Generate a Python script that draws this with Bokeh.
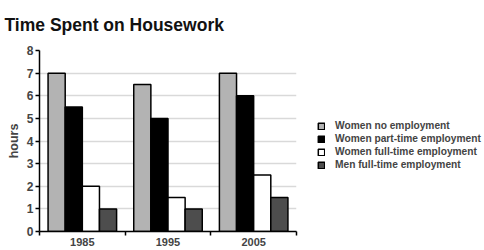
from bokeh.plotting import figure
from bokeh.models import ColumnDataSource, FixedTicker, Legend, LegendItem, Range1d, Title
from bokeh.transform import dodge
from bokeh.embed import file_html
from bokeh.resources import INLINE

years = ["1985", "1995", "2005"]
series_names = ["Women no employment", "Women part-time employment",
                "Women full-time employment", "Men full-time employment"]
women_no = [7, 6.5, 7]
women_part = [5.5, 5, 6]
women_full = [2, 1.5, 2.5]
men_full = [1, 1, 1.5]
colors = ["#b3b3b3", "#000000", "#ffffff", "#4d4d4d"]

FONT = "Liberation Sans"
x_centers = [i + 0.5 for i in range(len(years))]
src = ColumnDataSource(dict(x=x_centers, s0=women_no, s1=women_part, s2=women_full, s3=men_full))

p = figure(frame_width=257, frame_height=181, output_backend="svg", toolbar_location=None,
           x_range=Range1d(0, len(years)), y_range=Range1d(0, 8),
           min_border_left=39, min_border_right=188, min_border_top=50, min_border_bottom=19)
p.title = None
t = Title(text="Time Spent on Housework", text_font=FONT, text_font_size="17.5px",
          text_font_style="bold", text_color="#111111", align="left", offset=-35,
          standoff=28, vertical_align="top")
p.add_layout(t, "above")

offsets = [-0.3, -0.1, 0.1, 0.3]
renderers = []
for i, key in enumerate(["s0", "s1", "s2", "s3"]):
    r = p.vbar(x=dodge("x", offsets[i], range=p.x_range), top=key, width=0.2, bottom=0,
               source=src, fill_color=colors[i], line_color="black", line_width=1.5)
    renderers.append(r)

p.outline_line_color = None
p.background_fill_color = "white"
p.xgrid.grid_line_color = None
p.ygrid.grid_line_color = "#d9d9d9"
p.ygrid.grid_line_width = 1.5
p.ygrid.ticker = FixedTicker(ticks=list(range(0, 9)))

yax = p.yaxis[0]
yax.ticker = FixedTicker(ticks=list(range(0, 9)))
yax.axis_label = "hours"
yax.axis_label_text_font = FONT
yax.axis_label_text_font_size = "12.5px"
yax.axis_label_text_font_style = "bold"
yax.axis_label_standoff = 3
yax.major_label_text_font = FONT
yax.major_label_text_font_size = "12px"
yax.major_label_text_font_style = "bold"
yax.major_label_standoff = 2
yax.major_tick_in = 0
yax.major_tick_out = 4
yax.major_tick_line_width = 1.5
yax.minor_tick_line_color = None
yax.axis_line_width = 1.5

xax = p.xaxis[0]
xax.ticker = FixedTicker(ticks=x_centers, minor_ticks=list(range(0, len(years) + 1)))
xax.major_label_overrides = {x: y for x, y in zip(x_centers, years)}
xax.major_label_text_font = FONT
xax.major_label_text_font_size = "11px"
xax.major_label_text_font_style = "bold"
xax.major_label_standoff = 2
xax.major_tick_in = 0
xax.major_tick_out = 0
xax.minor_tick_in = 0
xax.minor_tick_out = 4
xax.minor_tick_line_width = 1.5
xax.minor_tick_line_color = "black"
xax.axis_line_width = 1.5

legend = Legend(items=[LegendItem(label=n, renderers=[r]) for n, r in zip(series_names, renderers)],
                location=(21, 61), orientation="vertical",
                glyph_width=8, glyph_height=8, label_height=10, spacing=2,
                label_standoff=10, padding=0, margin=0,
                border_line_color=None, background_fill_alpha=0,
                label_text_font=FONT, label_text_font_size="10.2px", label_text_font_style="bold")
p.add_layout(legend, "right")

open("out.html", "w").write(file_html(p, INLINE))
